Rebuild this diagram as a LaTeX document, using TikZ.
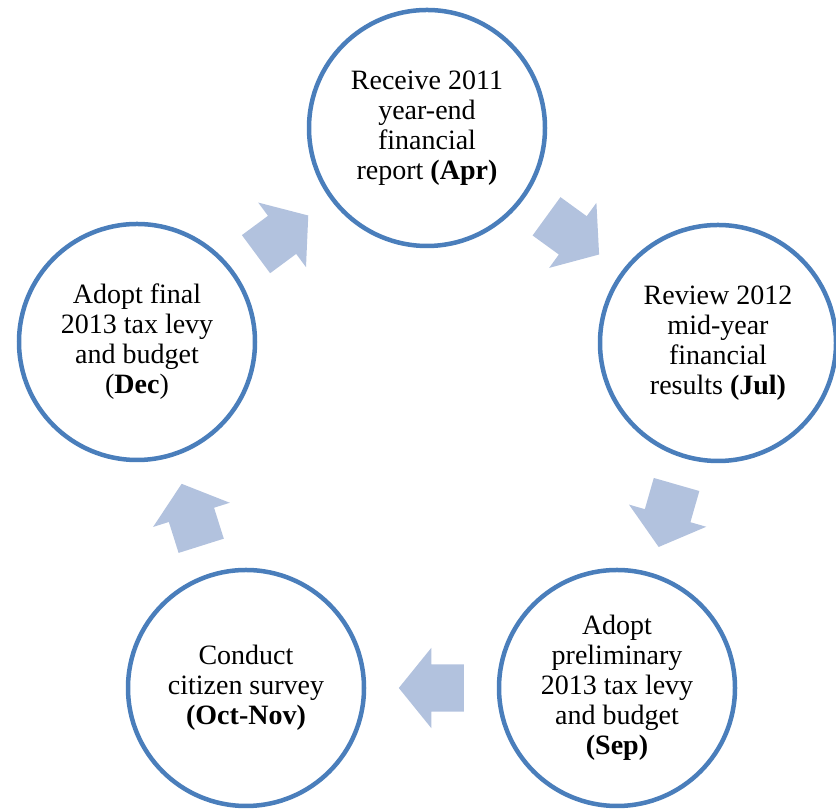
\documentclass[tikz,border=0pt]{standalone}
\usepackage{fontspec}
\setmainfont{Liberation Serif}
\usepackage{tikz}
\usetikzlibrary{calc}
\usetikzlibrary{shapes.arrows}
\definecolor{ringblue}{RGB}{74,126,187}
\definecolor{arrowblue}{RGB}{178,194,222}

\begin{document}
\begin{tikzpicture}[x=1pt,y=1pt,cycle node/.style={circle,draw=ringblue,line width=4.5pt,minimum size=236pt,inner sep=0pt,align=center,font=\fontsize{28}{30}\selectfont},cycle arrow/.style={single arrow,fill=arrowblue,draw=none,minimum height=65pt,inner xsep=0pt,inner ysep=23.5pt,single arrow head extend=16.5pt,single arrow tip angle=102,anchor=tail}]

				\useasboundingbox (0,0) rectangle (836,810);

				\node[cycle node] (Apr) at (427,682) {Receive 2011\\year-end\\financial\\report \textbf{(Apr)}};
				\node[cycle node] (Jul) at (718,467) {Review 2012\\mid-year\\financial\\results \textbf{(Jul)}};
				\node[cycle node] (Sep) at (617,122) {Adopt\\preliminary\\2013 tax levy\\and budget\\\textbf{(Sep)}};
				\node[cycle node] (Oct) at (246,122) {Conduct\\citizen survey\\\textbf{(Oct-Nov)}};
				\node[cycle node] (Dec) at (137,468) {Adopt final\\2013 tax levy\\and budget\\(\textbf{Dec})};

				% tail sits half an arrow back from the midpoint
				\node[cycle arrow,rotate=-36] (AprJul) at ($($(Apr)!0.5!(Jul)$)!32.5pt!(Apr)$) {};
				\node[cycle arrow,rotate=-106] (JulSep) at ($($(Jul)!0.5!(Sep)$)!32.5pt!(Jul)$) {};
				\node[cycle arrow,rotate=180] (SepOct) at ($($(Sep)!0.5!(Oct)$)!32.5pt!(Sep)$) {};
				\node[cycle arrow,rotate=107.5] (OctDec) at ($($(Oct)!0.5!(Dec)$)!32.5pt!(Oct)$) {};
				\node[cycle arrow,rotate=36.5] (DecApr) at ($($(Dec)!0.5!(Apr)$)!32.5pt!(Dec)$) {};

\end{tikzpicture}
\end{document}
